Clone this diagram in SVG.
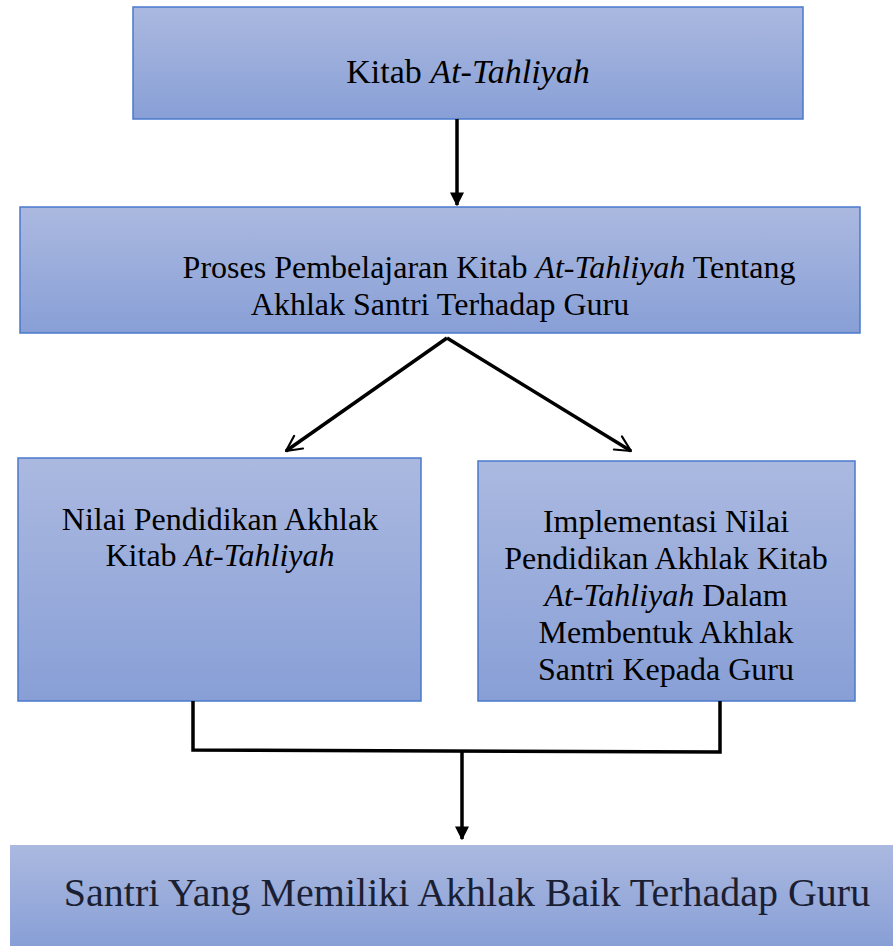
<svg xmlns="http://www.w3.org/2000/svg" width="893" height="946" viewBox="0 0 893 946">
<defs>
<linearGradient id="g" x1="0" y1="0" x2="0" y2="1">
<stop offset="0" stop-color="#abb9e0"/>
<stop offset="1" stop-color="#889fd6"/>
</linearGradient>
<marker id="tri" viewBox="0 0 10 10" refX="9" refY="5" markerWidth="4" markerHeight="4" orient="auto" markerUnits="strokeWidth">
<path d="M0,0 L10,5 L0,10 Z" fill="#000"/>
</marker>
<marker id="open" viewBox="0 0 10 10" refX="9" refY="5" markerWidth="5.5" markerHeight="5.5" orient="auto" markerUnits="strokeWidth">
<path d="M1,1 L9,5 L1,9" fill="none" stroke="#000" stroke-width="1.1" stroke-linecap="round" stroke-linejoin="round"/>
</marker>
</defs>
<style>
.box{fill:url(#g);stroke:#4a78cc;stroke-width:1.5}
.t{font-family:"Liberation Serif","Times New Roman",serif;font-size:32px;fill:#000;text-anchor:middle}
.i{font-style:italic}
.c{fill:none;stroke:#000;stroke-width:3.5}
</style>
<g id="node-kitab">
<rect class="box" x="133" y="7" width="670" height="112"/>
<text class="t" x="468" y="83" style="font-size:34px">Kitab <tspan class="i">At-Tahliyah</tspan></text>
</g>
<g id="node-proses">
<rect class="box" x="20" y="207" width="840" height="126"/>
<text class="t" x="489" y="278">Proses Pembelajaran Kitab <tspan class="i">At-Tahliyah</tspan> Tentang</text>
<text class="t" x="440" y="315">Akhlak Santri Terhadap Guru</text>
</g>
<g id="node-nilai">
<rect class="box" x="18" y="458" width="403" height="243"/>
<text class="t" x="220" y="530">Nilai Pendidikan Akhlak</text>
<text class="t" x="220" y="566">Kitab <tspan class="i">At-Tahliyah</tspan></text>
</g>
<g id="node-implementasi">
<rect class="box" x="478" y="461" width="377" height="240"/>
<text class="t" x="666" y="532">Implementasi Nilai</text>
<text class="t" x="666" y="569">Pendidikan Akhlak Kitab</text>
<text class="t" x="666" y="606"><tspan class="i">At-Tahliyah</tspan> Dalam</text>
<text class="t" x="666" y="643">Membentuk Akhlak</text>
<text class="t" x="666" y="680">Santri Kepada Guru</text>
</g>
<g id="node-santri">
<rect x="10" y="845" width="883" height="101" fill="url(#g)"/>
<text class="t" x="467" y="906" style="font-size:40px;fill:#1b1f33">Santri Yang Memiliki Akhlak Baik Terhadap Guru</text>
</g>
<g id="connectors">
<line class="c" x1="457" y1="119" x2="457" y2="205" marker-end="url(#tri)"/>
<line class="c" x1="447" y1="338" x2="286" y2="451" stroke-width="4" marker-end="url(#open)"/>
<line class="c" x1="447" y1="338" x2="631" y2="451" stroke-width="4" marker-end="url(#open)"/>
<polyline class="c" points="193,701 193,750 720,752 720,701"/>
<line class="c" x1="462" y1="751" x2="462" y2="839" marker-end="url(#tri)"/>
</g>
</svg>
